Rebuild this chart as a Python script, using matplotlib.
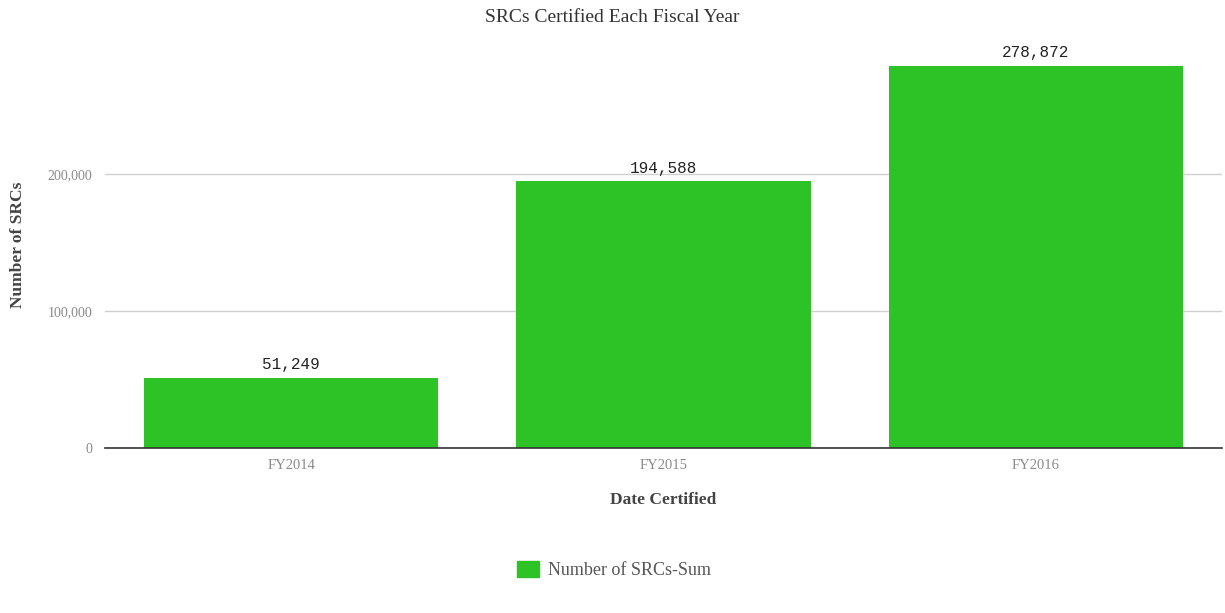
import matplotlib
matplotlib.use("Agg")
import matplotlib.pyplot as plt
from matplotlib.patches import Patch

categories = ["FY2014", "FY2015", "FY2016"]
values = [51249, 194588, 278872]
yticks = [0, 100000, 200000]
ytick_labels = ["0", "100,000", "200,000"]

BAR_COLOR = "#2dc225"
SERIF = ["Liberation Serif", "DejaVu Serif"]
MONO = ["Liberation Mono", "DejaVu Sans Mono"]

fig = plt.figure(figsize=(12.25, 6.13), dpi=100)
ax = fig.add_axes([105 / 1225, 1 - 448 / 613, 1117 / 1225, 411 / 613])

x = range(len(categories))
bars = ax.bar(x, values, width=0.79, color=BAR_COLOR, zorder=3)

ax.set_xlim(-0.5, 2.5)
ax.set_ylim(0, 300000)
ax.set_yticks(yticks)
ax.set_yticklabels(ytick_labels, family=SERIF, fontsize=10, color="#8a8a8a")
ax.set_xticks(list(x))
ax.set_xticklabels(categories, family=SERIF, fontsize=10.5, color="#8a8a8a")
ax.tick_params(axis="y", length=0, pad=9)
ax.tick_params(axis="x", length=0, pad=8)

ax.grid(axis="y", color="#cfcfcf", linewidth=1, zorder=0)
for side in ["top", "right", "left"]:
    ax.spines[side].set_visible(False)
ax.spines["bottom"].set_color("#333333")
ax.spines["bottom"].set_linewidth(1.2)
ax.spines["bottom"].set_zorder(4)

for rect, v in zip(bars, values):
    ax.annotate(f"{v:,}", (rect.get_x() + rect.get_width() / 2, v),
                xytext=(0, 4), textcoords="offset points",
                ha="center", va="bottom", family=MONO, fontsize=11.5,
                color="#222222")

fig.text(612 / 1225, 1 - 18 / 613, "SRCs Certified Each Fiscal Year",
         ha="center", va="center", family=SERIF, fontsize=14,
         color="#333333")
fig.text(663 / 1225, 1 - 500 / 613, "Date Certified", ha="center",
         va="center", family=SERIF, fontsize=12.5, fontweight="bold",
         color="#444444")
fig.text(18 / 1225, 1 - 245 / 613, "Number of SRCs", ha="center",
         va="center", rotation=90, family=SERIF, fontsize=12.5,
         fontweight="bold", color="#444444")

handle = Patch(facecolor=BAR_COLOR, edgecolor=BAR_COLOR)
fig.legend([handle], ["Number of SRCs-Sum"], loc="center",
           bbox_to_anchor=(614 / 1225, 1 - 570 / 613), frameon=False,
           prop={"family": SERIF, "size": 13}, labelcolor="#555555",
           handlelength=1.2, handleheight=1.0, handletextpad=0.5)

fig.savefig("out.png", dpi=100, facecolor="white")
